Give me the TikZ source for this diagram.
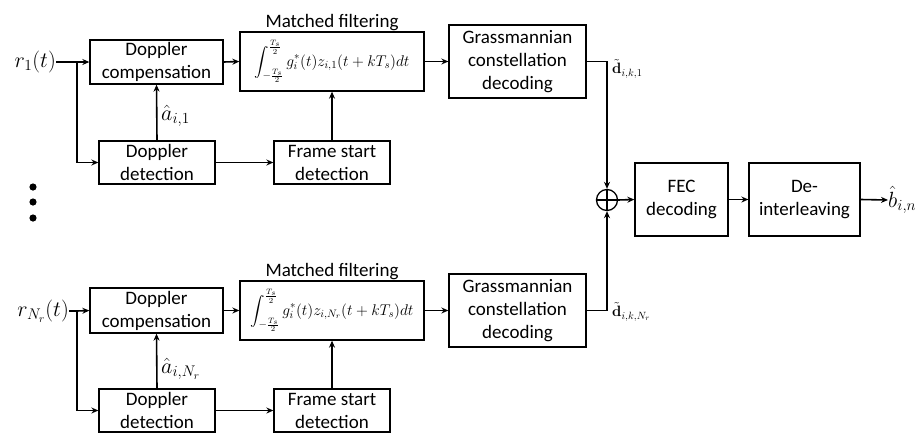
\RequirePackage{fix-cm}
\documentclass[tikz,border=0pt]{standalone}
\usepackage{amsmath}
\usepackage[no-math]{fontspec}
\setmainfont{Carlito}
\usetikzlibrary{arrows.meta}
\begin{document}
\begin{tikzpicture}[x=1pt,y=-1pt,
  blk/.style={draw, line width=1.3pt, align=center, inner sep=0pt, font=\fontsize{19}{23}\selectfont},
  conn/.style={line width=1.6pt, -{Stealth[length=7pt,width=6pt]}},
  wire/.style={line width=1.6pt},
  mlab/.style={font=\fontsize{22}{26}\selectfont, inner sep=0pt},
  slab/.style={font=\fontsize{15}{18}\selectfont, inner sep=0pt},
  ttl/.style={font=\fontsize{19}{23}\selectfont, inner sep=0pt},
  intf/.style={font=\fontsize{15.5}{18}\selectfont}]
\useasboundingbox (0,0) rectangle (924,432);

% ---------- top branch ----------
\node[blk, minimum width=133pt, minimum height=44pt] (compA) at (156.5,62) {Doppler\\compensation};
\node[blk, minimum width=116pt, minimum height=43pt] (detA) at (157,162.5) {Doppler\\detection};
\node[blk, minimum width=184pt, minimum height=59pt, intf] (mfA) at (332,61.5) {$\displaystyle\int_{-\frac{T_s}{2}}^{\frac{T_s}{2}} g_i^*(t)z_{i,1}(t+kT_s)dt$};
\node[ttl, anchor=south] (mftA) at ([yshift=0.5pt]mfA.north) {Matched filtering};
\node[blk, minimum width=116pt, minimum height=43pt] (fsA) at (332,162.5) {Frame start\\detection};
\node[blk, minimum width=137pt, minimum height=73pt] (grA) at (517.5,61.5) {Grassmannian\\constellation\\decoding};
\node[mlab, anchor=east] (r1) at (56,62) {$r_1(t)$};
\coordinate (brA) at (77,62);
\node[mlab, anchor=west] (a1) at (161,116) {$\hat{a}_{i,1}$};
\node[slab, anchor=west] (d1) at (612,69) {$\tilde{\mathbf{d}}_{i,k,1}$};

% ---------- bottom branch ----------
\node[blk, minimum width=133pt, minimum height=45pt] (compB) at (156.5,310.5) {Doppler\\compensation};
\node[blk, minimum width=116pt, minimum height=43pt] (detB) at (157,410.5) {Doppler\\detection};
\node[blk, minimum width=184pt, minimum height=59pt, intf] (mfB) at (332,310.5) {$\displaystyle\int_{-\frac{T_s}{2}}^{\frac{T_s}{2}} g_i^*(t)z_{i,N_r}(t+kT_s)dt$};
\node[ttl, anchor=south] (mftB) at ([yshift=0.5pt]mfB.north) {Matched filtering};
\node[blk, minimum width=116pt, minimum height=43pt] (fsB) at (332,410.5) {Frame start\\detection};
\node[blk, minimum width=137pt, minimum height=73pt] (grB) at (517.5,310.5) {Grassmannian\\constellation\\decoding};
\node[mlab, anchor=east] (rN) at (69,311) {$r_{N_r}(t)$};
\coordinate (brB) at (77,311);
\node[mlab, anchor=west] (aN) at (161,369) {$\hat{a}_{i,N_r}$};
\node[slab, anchor=west] (dN) at (612,312) {$\tilde{\mathbf{d}}_{i,k,N_r}$};

% ---------- combiner and back end ----------
\node[draw, circle, line width=1.3pt, minimum size=21pt, inner sep=0pt] (sum) at (607,200) {};
\draw[line width=1.3pt] (sum.north) -- (sum.south) (sum.west) -- (sum.east);
\node[blk, minimum width=93pt, minimum height=73pt] (fec) at (681.5,199.5) {FEC\\decoding};
\node[blk, minimum width=111pt, minimum height=73pt] (dei) at (804.5,199.5) {De-\\interleaving};
\node[mlab, anchor=west] (bh) at (888,200) {$\hat{b}_{i,n}$};

% dots
\foreach \yy in {187,202,218} \fill (33,\yy) circle (3.6pt);

% ---------- connectors top ----------
\draw[wire] (r1.east) -- (brA);
\draw[conn] (brA) -- (compA.west);
\draw[conn] (brA) |- (detA.west);
\draw[conn] (detA.north) -- (compA.south);
\draw[conn] (compA.east) -- (mfA.west);
\draw[conn] (detA.east) -- (fsA.west);
\draw[conn] (fsA.north) -- (mfA.south);
\draw[conn] (mfA.east) -- (grA.west);
\draw[conn] (grA.east) -| (sum.north);

% ---------- connectors bottom ----------
\draw[wire] (rN.east) -- (brB);
\draw[conn] (brB) -- (compB.west);
\draw[conn] (brB) |- (detB.west);
\draw[conn] (detB.north) -- (compB.south);
\draw[conn] (compB.east) -- (mfB.west);
\draw[conn] (detB.east) -- (fsB.west);
\draw[conn] (fsB.north) -- (mfB.south);
\draw[conn] (mfB.east) -- (grB.west);
\draw[conn] (grB.east) -| (sum.south);

% ---------- back end ----------
\draw[conn] (sum.east) -- (fec.west);
\draw[conn] (fec.east) -- (dei.west);
\draw[conn] (dei.east) -- (bh.west);
\end{tikzpicture}
\end{document}
